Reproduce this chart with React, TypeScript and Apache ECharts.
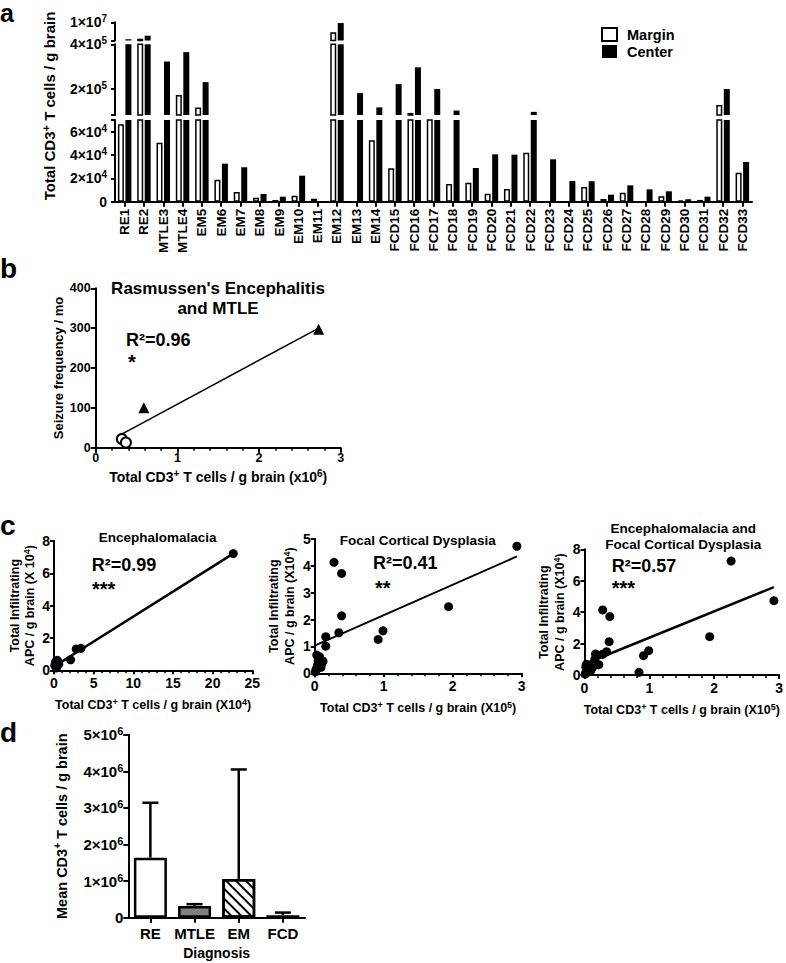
import React, { useEffect, useRef } from 'react';
import * as echarts from 'echarts';

const FF = '"Liberation Sans", Arial, Helvetica, sans-serif';

// ---------- Panel a data ----------
const categories = ['RE1', 'RE2', 'MTLE3', 'MTLE4', 'EM5', 'EM6', 'EM7', 'EM8', 'EM9', 'EM10', 'EM11', 'EM12', 'EM13', 'EM14',
  'FCD15', 'FCD16', 'FCD17', 'FCD18', 'FCD19', 'FCD20', 'FCD21', 'FCD22', 'FCD23', 'FCD24', 'FCD25', 'FCD26', 'FCD27',
  'FCD28', 'FCD29', 'FCD30', 'FCD31', 'FCD32', 'FCD33'];
const marginValues = [66300, 1350000, 50600, 173000, 118000, 18900, 8300, 3400, 1500, 5100, 2600, 4720000, 0, 52600,
  28600, 93500, 86000, 15200, 16300, 6900, 10900, 42000, 0, 0, 12600, 2300, 7700, 0, 4600, 1200, 1500, 129000, 24900];
const centerValues = [1030000, 2930000, 323000, 365000, 231000, 32600, 29500, 6600, 4300, 22300, 0, 9600000, 182000, 118000,
  222000, 297000, 200000, 104000, 28900, 40600, 40300, 98000, 36300, 17700, 17500, 6000, 14000, 10600, 8900, 2100, 4300, 200000, 34000];
// broken axis segments: [min, max]
const segTop = [400000, 10000000];
const segMid = [84000, 400000];
const segBot = [0, 70000];
const ticksTop = [400000, 10000000];
const labelsTop = [10000000];
const ticksMid = [84000, 200000, 400000];
const labelsMid = [200000, 400000];
const ticksBot = [0, 20000, 40000, 60000, 70000];
const labelsBot = [0, 20000, 40000, 60000];

// ---------- Panel b data ----------
const reTriangles = [[0.59, 100], [2.73, 297]];
const mtleCircles = [[0.32, 22], [0.37, 13]];
const bFit = [[0.32, 34], [2.72, 299]];

// ---------- Panel c data ----------
const emPoints = [[22.6, 7.22], [3.4, 1.36], [2.8, 1.32], [2.1, 0.65], [0.4, 0.62], [0.6, 0.38], [0.2, 0.52], [0.1, 0.3], [0.3, 0.15], [0.5, 0.55]];
const emFit = [[0.1, 0.27], [22.7, 7.25]];
const fcdPoints = [[2.93, 4.73], [1.94, 2.48], [0.99, 1.58], [0.92, 1.26], [0.28, 4.13], [0.39, 3.72], [0.39, 2.14], [0.35, 1.51],
  [0.16, 1.36], [0.16, 1.01], [0.03, 0.68], [0.07, 0.62], [0.12, 0.45], [0.09, 0.22], [0.02, 0.15], [0.05, 0.45], [0.01, 0.05], [0.1, 0.35], [0.04, 0.3]];
const fcdFit = [[0, 1.03], [2.93, 4.35]];
const allPoints = [[2.26, 7.25], [2.92, 4.73], [1.93, 2.44], [0.99, 1.55], [0.91, 1.23], [0.84, 0.17], [0.28, 4.14], [0.39, 3.72],
  [0.38, 2.12], [0.34, 1.48], [0.17, 1.34], [0.16, 1.0], [0.22, 0.66], [0.28, 1.32], [0.03, 0.68], [0.07, 0.62], [0.12, 0.45],
  [0.09, 0.22], [0.02, 0.15], [0.05, 0.45], [0.01, 0.05], [0.1, 0.35], [0.04, 0.3], [0.04, 0.62], [0.06, 0.38], [0.02, 0.52], [0.03, 0.15]];
const allFit = [[0, 0.7], [2.92, 5.59]];

// ---------- Panel d data ----------
const diagnoses = ['RE', 'MTLE', 'EM', 'FCD'];
const diagMeans = [1640000, 320000, 1060000, 70000];
const diagUpper = [3140000, 370000, 4050000, 140000];
const dTicks = [0, 1000000, 2000000, 3000000, 4000000, 5000000];

const rich = (size: number) => ({
  n: { fontFamily: FF, fontSize: size, fontWeight: 'bold', color: '#000', fill: '#000', lineHeight: size + 3 },
  s: { fontFamily: FF, fontSize: Math.round(size * 0.7), fontWeight: 'bold', color: '#000', fill: '#000', lineHeight: Math.round(size * 0.7), verticalAlign: 'top' },
});

const sci = (v: number) => {
  if (v === 0) return '{n|0}';
  const e = Math.floor(Math.log10(v) + 1e-9);
  const m = Math.round(v / Math.pow(10, e));
  return `{n|${m}×10}{s|${e}}`;
};

const AL = { show: true, onZero: false, lineStyle: { color: '#000', width: 2 } };
const tick = (len: number, extra: any = {}) => ({ show: true, length: len, lineStyle: { color: '#000', width: 2 }, ...extra });
const lbl = (size: number, extra: any = {}) => ({ fontFamily: FF, fontSize: size, fontWeight: 'bold', color: '#000', ...extra });

function buildOption(): any {
  const grid = [
    { left: 115, top: 22.3, width: 637, height: 18.2 },
    { left: 115, top: 44.3, width: 637, height: 70.7 },
    { left: 115, top: 120, width: 637, height: 81.7 },
    { left: 95.7, top: 288.3, width: 245, height: 159.4 },
    { left: 54, top: 541, width: 198.3, height: 129.3 },
    { left: 314.7, top: 539, width: 207, height: 134.3 },
    { left: 584.5, top: 549.3, width: 198.8, height: 125.7 },
    { left: 128.3, top: 734.7, width: 176.7, height: 183 },
  ];

  const catA = (gi: number, show: boolean) => ({
    type: 'category', gridIndex: gi, data: categories, show, boundaryGap: true,
    axisLine: AL, axisTick: tick(5, { alignWithLabel: true }),
    axisLabel: lbl(13.5, { interval: 0, rotate: 90, margin: 7 }),
  });
  const segY = (gi: number, seg: number[], ticks: number[], labels: number[]) => ({
    type: 'value', gridIndex: gi, min: seg[0], max: seg[1],
    axisLine: AL, axisTick: tick(4, { customValues: ticks }),
    axisLabel: { customValues: labels, formatter: sci, rich: rich(14), margin: 8 },
    splitLine: { show: false },
  });

  const cX = (gi: number, max: number, interval: number, name: string) => ({
    type: 'value', gridIndex: gi, min: 0, max, interval,
    axisLine: AL, axisTick: tick(4),
    minorTick: { show: true, splitNumber: 5, length: 3, lineStyle: { color: '#000', width: 1.5 } },
    axisLabel: lbl(14, { margin: 6 }), splitLine: { show: false },
    name, nameLocation: 'middle', nameGap: 27, nameTextStyle: { rich: rich(12.5) },
  });
  const cY = (gi: number, max: number, interval: number, name: string, gap: number) => ({
    type: 'value', gridIndex: gi, min: 0, max, interval,
    axisLine: AL, axisTick: tick(4),
    axisLabel: lbl(14, { margin: 4 }), splitLine: { show: false },
    name, nameLocation: 'middle', nameGap: gap, nameRotate: 90, nameTextStyle: { rich: rich(12.5) },
  });

  const xAxis = [
    catA(0, false), catA(1, false), catA(2, true),
    {
      type: 'value', gridIndex: 3, min: 0, max: 3, interval: 1,
      axisLine: AL, axisTick: tick(5),
      minorTick: { show: true, splitNumber: 5, length: 3, lineStyle: { color: '#000', width: 1.5 } },
      axisLabel: lbl(12.5, { margin: 4 }), splitLine: { show: false },
      name: '{n|Total CD3}{s|+}{n| T cells / g brain (x10}{s|6}{n|)}', nameLocation: 'middle', nameGap: 21,
      nameTextStyle: { rich: rich(14) },
    },
    cX(4, 25, 5, '{n|Total CD3}{s|+}{n| T cells / g brain (X10}{s|4}{n|)}'),
    cX(5, 3, 1, '{n|Total CD3}{s|+}{n| T cells / g brain (X10}{s|5}{n|)}'),
    cX(6, 3, 1, '{n|Total CD3}{s|+}{n| T cells / g brain (X10}{s|5}{n|)}'),
    {
      type: 'category', gridIndex: 7, data: diagnoses, boundaryGap: true,
      axisLine: AL, axisTick: tick(5, { alignWithLabel: true }),
      axisLabel: lbl(15, { margin: 8, interval: 0 }),
      name: 'Diagnosis', nameLocation: 'middle', nameGap: 28,
      nameTextStyle: lbl(14),
    },
  ];

  const yAxis = [
    segY(0, segTop, ticksTop, labelsTop),
    segY(1, segMid, ticksMid, labelsMid),
    segY(2, segBot, ticksBot, labelsBot),
    {
      type: 'value', gridIndex: 3, min: 0, max: 400, interval: 100,
      axisLine: AL, axisTick: tick(5), axisLabel: lbl(12.5, { margin: 5 }), splitLine: { show: false },
      name: 'Seizure frequency / mo', nameLocation: 'middle', nameGap: 31, nameTextStyle: lbl(13),
    },
    cY(4, 8, 2, '{n|Total Infiltrating}\n{n|APC / g brain (X 10}{s|4}{n|)}', 16),
    cY(5, 5, 1, '{n|Total Infiltrating}\n{n|APC / g brain (X10}{s|4}{n|)}', 17),
    cY(6, 8, 2, '{n|Total Infiltrating}\n{n|APC / g brain (X10}{s|4}{n|)}', 17),
    {
      type: 'value', gridIndex: 7, min: 0, max: 5000000, interval: 1000000,
      axisLine: AL, axisTick: tick(5, { customValues: dTicks }),
      axisLabel: { formatter: sci, rich: rich(15), margin: 5 }, splitLine: { show: false },
      name: '{n|Mean CD3}{s|+}{n| T cells / g brain}', nameLocation: 'middle', nameGap: 58,
      nameTextStyle: { rich: rich(14.5) },
    },
  ];

  const series: any[] = [];
  for (let i = 0; i < 3; i++) {
    series.push({
      type: 'bar', name: 'Margin', xAxisIndex: i, yAxisIndex: i, data: marginValues, barWidth: 6, barGap: '25%', clip: true,
      itemStyle: { color: '#fff', borderColor: '#000', borderWidth: 1.5 },
    });
    series.push({
      type: 'bar', name: 'Center', xAxisIndex: i, yAxisIndex: i, data: centerValues, barWidth: 6, barGap: '25%', clip: true,
      itemStyle: { color: '#000' },
    });
  }
  // panel b
  series.push({ type: 'line', xAxisIndex: 3, yAxisIndex: 3, data: bFit, symbol: 'none', lineStyle: { color: '#000', width: 1.5 }, z: 1 });
  series.push({ type: 'scatter', xAxisIndex: 3, yAxisIndex: 3, data: reTriangles, symbol: 'triangle', symbolSize: 11, itemStyle: { color: '#000', opacity: 1 }, z: 3 });
  series.push({ type: 'scatter', xAxisIndex: 3, yAxisIndex: 3, data: mtleCircles, symbol: 'circle', symbolSize: 10, itemStyle: { color: '#fff', borderColor: '#000', borderWidth: 2, opacity: 1 }, z: 3 });
  // panel c
  const cSets = [[emPoints, emFit, 2.5], [fcdPoints, fcdFit, 2], [allPoints, allFit, 2.5]];
  cSets.forEach(([pts, fit, w], k) => {
    series.push({ type: 'line', xAxisIndex: 4 + k, yAxisIndex: 4 + k, data: fit, symbol: 'none', lineStyle: { color: '#000', width: w }, z: 1 });
    series.push({ type: 'scatter', xAxisIndex: 4 + k, yAxisIndex: 4 + k, data: pts, symbolSize: 9, itemStyle: { color: '#000', opacity: 1 }, z: 3 });
  });
  // panel d
  const dFills = [
    { color: '#fff' },
    { color: '#808080' },
    { color: '#fff', decal: { symbol: 'rect', symbolSize: 1, color: '#000', backgroundColor: '#fff', dashArrayX: [1, 0], dashArrayY: [2, 5], rotation: Math.PI / 4 } },
    { color: '#000' },
  ];
  series.push({
    type: 'bar', xAxisIndex: 7, yAxisIndex: 7, barWidth: 33,
    data: diagMeans.map((v, i) => ({ value: v, itemStyle: { ...dFills[i], borderColor: '#000', borderWidth: 2.5 } })),
  });
  series.push({
    type: 'custom', xAxisIndex: 7, yAxisIndex: 7, z: 10,
    data: diagMeans.map((m, i) => [i, m, diagUpper[i]]),
    encode: { x: 0, y: [1, 2] },
    renderItem: (params: any, api: any) => {
      const base = api.coord([api.value(0), api.value(1)]);
      const top = api.coord([api.value(0), api.value(2)]);
      const x = base[0];
      return {
        type: 'group',
        children: [
          { type: 'line', shape: { x1: x, y1: base[1], x2: x, y2: top[1] }, style: { stroke: '#000', lineWidth: 2.5 } },
          { type: 'line', shape: { x1: x - 8, y1: top[1], x2: x + 8, y2: top[1] }, style: { stroke: '#000', lineWidth: 2.5 } },
        ],
      };
    },
  });

  const txt = (text: string, x: number, y: number, size: number, extra: any = {}) => ({
    type: 'text', x, y, z: 100,
    style: { text, fontFamily: FF, fontSize: size, fontWeight: 'bold', fill: '#000', align: 'left', verticalAlign: 'middle', ...extra },
  });

  const graphic = [
    txt('a', 0, 0, 25, { verticalAlign: 'top', lineHeight: 25 }),
    txt('b', 0, 268, 28), txt('c', 0, 525, 28), txt('d', 0, 732, 28),
    {
      type: 'text', x: 49, y: 106, rotation: Math.PI / 2, z: 100,
      style: { text: '{n|Total CD3}{s|+}{n| T cells / g brain}', rich: rich(15), align: 'center', verticalAlign: 'middle' },
    },
    txt("Rasmussen's Encephalitis\nand MTLE", 218, 298, 17, { align: 'center', lineHeight: 20 }),
    txt('R²=0.96', 126, 340, 18),
    txt('*', 128, 362, 20),
    txt('Encephalomalacia', 157.7, 537.3, 13.5, { align: 'center' }),
    txt('Focal Cortical Dysplasia', 417.7, 540.7, 13.5, { align: 'center' }),
    txt('Encephalomalacia and\nFocal Cortical Dysplasia', 683.3, 536.3, 13.5, { align: 'center', lineHeight: 16 }),
    txt('R²=0.99', 91.7, 565, 18), txt('R²=0.41', 373, 563, 18), txt('R²=0.57', 611.7, 566, 18),
    txt('***', 92, 589, 20), txt('**', 375, 588, 20), txt('***', 611.7, 588, 20),
  ];

  return {
    animation: false,
    backgroundColor: '#fff',
    textStyle: { fontFamily: FF, fontWeight: 'bold', color: '#000' },
    grid,
    xAxis,
    yAxis,
    legend: {
      left: 601, top: 27, padding: 0, orient: 'vertical', itemWidth: 15, itemHeight: 13, itemGap: 2,
      selectedMode: false,
      textStyle: { fontFamily: FF, fontSize: 14.5, fontWeight: 'bold', color: '#000', lineHeight: 13, padding: [0, 0, 0, 5] },
      data: [
        { name: 'Margin', icon: 'rect', itemStyle: { color: '#fff', borderColor: '#000', borderWidth: 2 } },
        { name: 'Center', icon: 'rect', itemStyle: { color: '#000' } },
      ],
    },
    series,
    graphic,
  };
}

export default function App() {
  const ref = useRef<HTMLDivElement>(null);
  useEffect(() => {
    if (!ref.current) return;
    const chart = echarts.init(ref.current, null, { renderer: 'svg' });
    chart.setOption(buildOption());
    return () => chart.dispose();
  }, []);
  return <div ref={ref} style={{ position: 'fixed', left: 0, top: 0, width: 786, height: 963, background: '#fff' }} />;
}
